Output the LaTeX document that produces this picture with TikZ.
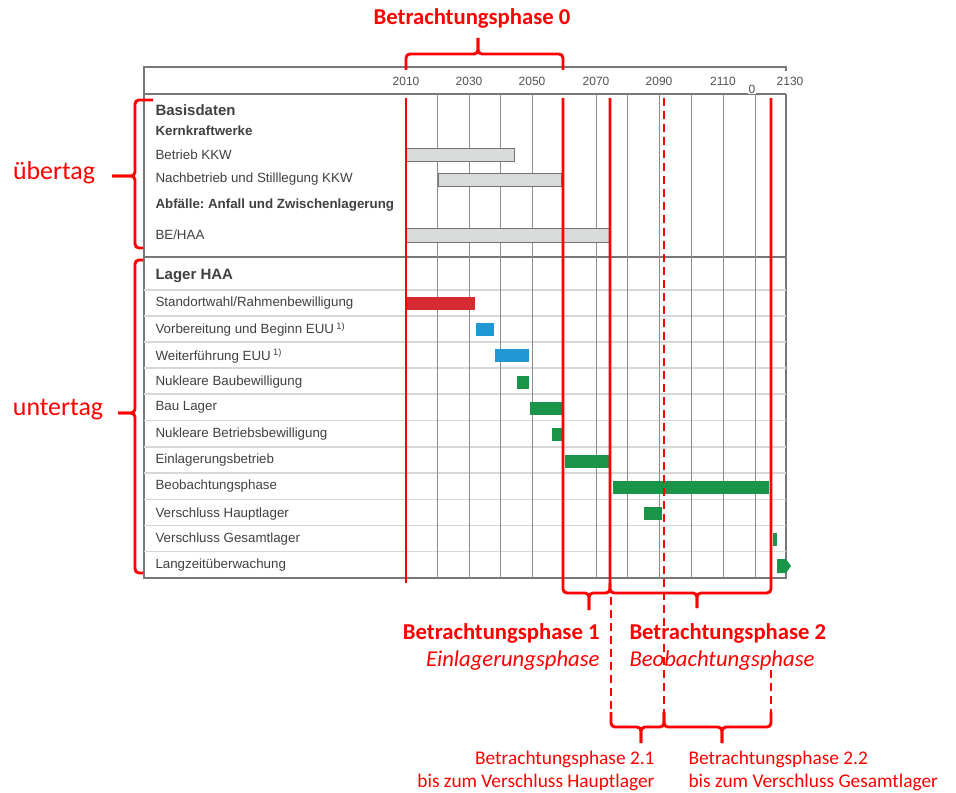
\documentclass[tikz,border=0pt]{standalone}
\usepackage{fontspec}
\setmainfont{Liberation Sans}
\newfontfamily\calibri{Carlito}
\frenchspacing

\tikzset{every picture/.style={line width=0.75pt}}
\tikzset{
  frameline/.style={draw={rgb, 255:red, 120; green, 120; blue, 120 }, line width=0.9pt},
  gridline/.style={draw={rgb, 255:red, 140; green, 140; blue, 140 }, line width=0.75pt},
  rowline/.style={draw={rgb, 255:red, 215; green, 215; blue, 215 }, line width=1.1pt},
  oldbar/.style={fill={rgb, 255:red, 217; green, 218; blue, 218 }, draw={rgb, 255:red, 115; green, 115; blue, 115 }, line width=0.75pt},
  redbar/.style={fill={rgb, 255:red, 213; green, 43; blue, 48 }},
  bluebar/.style={fill={rgb, 255:red, 33; green, 150; blue, 211 }},
  greenbar/.style={fill={rgb, 255:red, 26; green, 148; blue, 72 }},
  redline/.style={draw={rgb, 255:red, 255; green, 0; blue, 0 }, line width=2.2pt, rounded corners=3pt},
  reddash/.style={redline, dash pattern=on 6pt off 3.75pt},
  rowtext/.style={anchor=west, inner sep=0pt, text={rgb, 255:red, 64; green, 64; blue, 64 }, font=\fontsize{10}{12}\selectfont},
  headtext/.style={rowtext, font=\fontsize{10}{12}\selectfont\bfseries},
  bigheadtext/.style={rowtext, font=\fontsize{11.25}{13}\selectfont\bfseries},
  yeartext/.style={inner sep=0pt, text={rgb, 255:red, 80; green, 80; blue, 80 }, font=\fontsize{9}{11}\selectfont},
  phasetext/.style={inner sep=0pt, text={rgb, 255:red, 255; green, 0; blue, 0 }, font=\calibri\fontsize{17}{20}\selectfont\bfseries},
  phasesub/.style={inner sep=0pt, text={rgb, 255:red, 255; green, 0; blue, 0 }, font=\calibri\fontsize{17}{20}\selectfont\itshape},
  phasesmall/.style={inner sep=0pt, text={rgb, 255:red, 255; green, 0; blue, 0 }, font=\calibri\fontsize{14.5}{17}\selectfont},
  sidetext/.style={inner sep=0pt, text={rgb, 255:red, 255; green, 0; blue, 0 }, font=\calibri\fontsize{19.4}{22}\selectfont}
}

\begin{document}
\begin{tikzpicture}[x=0.75pt,y=0.75pt,yscale=-1,xscale=1]
\useasboundingbox (0,0) rectangle (956,792);

%Shape: Frame
\draw [frameline] (786,94) -- (786,578) -- (144,578) -- (144,67) -- (786,67) -- (786,71) ;
%Straight Lines
\draw [frameline] (144,94) -- (786,94) ;
\draw [frameline] (144,257) -- (786,257) ;

%Straight Lines: row lines
\draw [rowline] (144,290) -- (786,290) ;
\draw [rowline] (144,316) -- (786,316) ;
\draw [rowline] (144,342) -- (786,342) ;
\draw [rowline] (144,368) -- (786,368) ;
\draw [rowline] (144,394) -- (786,394) ;
\draw [rowline] (144,420.5) -- (786,420.5) ;
\draw [rowline] (144,447) -- (786,447) ;
\draw [rowline] (144,473) -- (786,473) ;
\draw [rowline] (144,499.5) -- (786,499.5) ;
\draw [rowline] (144,525.5) -- (786,525.5) ;
\draw [rowline] (144,551.5) -- (786,551.5) ;

%Straight Lines: year lines
\draw [gridline] (437.7,94) -- (437.7,578) ;
\draw [gridline] (469,94) -- (469,578) ;
\draw [gridline] (500.7,94) -- (500.7,578) ;
\draw [gridline] (532.3,94) -- (532.3,578) ;
\draw [gridline] (596,94) -- (596,578) ;
\draw [gridline] (627.7,94) -- (627.7,578) ;
\draw [gridline] (659.3,94) -- (659.3,578) ;
\draw [gridline] (691.7,94) -- (691.7,578) ;
\draw [gridline] (723.3,94) -- (723.3,578) ;
\draw [gridline] (755,94) -- (755,578) ;

% Text Node
\draw (406,81) node (y2010) [yeartext] {2010};
% Text Node
\draw (469,81) node (y2030) [yeartext] {2030};
% Text Node
\draw (532,81) node (y2050) [yeartext] {2050};
% Text Node
\draw (596,81) node (y2070) [yeartext] {2070};
% Text Node
\draw (659,81) node (y2090) [yeartext] {2090};
% Text Node
\draw (723,81) node (y2110) [yeartext] {2110};
% Text Node
\draw (790,81) node (y2130) [yeartext] {2130};
% Text Node
\draw (752,89) node (yzero) [yeartext, fill=white, inner sep=0.5pt] {0};

%Shape: Rectangle
\draw [oldbar] (406,148) rectangle (514,161) ;
\draw [oldbar] (438,173) rectangle (561,186) ;
\draw [oldbar] (406,228) rectangle (610,242) ;
%Shape: Rectangle
\fill [redbar] (406,297) rectangle (475,310) ;
\fill [bluebar] (476,323) rectangle (494,336) ;
\fill [bluebar] (495,349) rectangle (529,362) ;
\fill [greenbar] (517,376) rectangle (529,389) ;
\fill [greenbar] (530,402) rectangle (563,415) ;
\fill [greenbar] (552,428) rectangle (563,441) ;
\fill [greenbar] (565,455) rectangle (610,468) ;
\fill [greenbar] (613,481) rectangle (769,494) ;
\fill [greenbar] (644,507) rectangle (662,520) ;
\fill [greenbar] (773,533) rectangle (777,546) ;
%Shape: Pentagon
\fill [greenbar] (777,559) -- (786,559) -- (791,566) -- (786,573) -- (777,573) -- cycle ;

% Text Node
\draw (155,110) node (basis) [bigheadtext] {Basisdaten};
% Text Node
\draw (155,131) node (kkw) [headtext] {Kernkraftwerke};
% Text Node
\draw (155,154.5) node (betrieb) [rowtext] {Betrieb KKW};
% Text Node
\draw (155,179) node (nachbetrieb) [rowtext] {Nachbetrieb und Stilllegung KKW};
% Text Node
\draw (155,205.5) node (abfall) [headtext] {Abfälle: Anfall und Zwischenlagerung};
% Text Node
\draw (155,235) node (beh) [rowtext] {BE/HAA};
% Text Node
\draw (155,275.5) node (lager) [bigheadtext] {Lager HAA};
% Text Node
\draw (155,303) node (standort) [rowtext] {Standortwahl/Rahmenbewilligung};
% Text Node
\draw (155,329.5) node (vorber) [rowtext] {Vorbereitung und Beginn EUU\,\textsuperscript{1)}};
% Text Node
\draw (155,356) node (weiter) [rowtext] {Weiterführung EUU\,\textsuperscript{1)}};
% Text Node
\draw (155,382.5) node (baubew) [rowtext] {Nukleare Baubewilligung};
% Text Node
\draw (155,407.5) node (bau) [rowtext] {Bau Lager};
% Text Node
\draw (155,434) node (betrbew) [rowtext] {Nukleare Betriebsbewilligung};
% Text Node
\draw (155,460) node (einlag) [rowtext] {Einlagerungsbetrieb};
% Text Node
\draw (155,486.5) node (beob) [rowtext] {Beobachtungsphase};
% Text Node
\draw (155,514.5) node (haupt) [rowtext] {Verschluss Hauptlager};
% Text Node
\draw (155,539) node (gesamt) [rowtext] {Verschluss Gesamtlager};
% Text Node
\draw (155,565) node (langzeit) [rowtext] {Langzeitüberwachung};

%Straight Lines: phase borders
\draw [redline] (406,98) -- (406,583) ;
\draw [redline] (406,70) |- (478,54) -- (478,38) ;
\draw [redline] (478,38) -- (478,54) -| (563,70) ;
\draw [redline] (563,98) |- (589,593) -- (589,610) ;
\draw [redline] (589,610) -- (589,593) -| (610,98) ;
\draw [redline] (610,583) |- (697,593) -- (697,608) ;
\draw [redline] (697,608) -- (697,593) -| (771,98) ;
%Straight Lines: dashed
\draw [reddash] (664,98) -- (664,714) ;
\draw [reddash] (611,597) -- (611,714) ;
\draw [reddash] (771,670) -- (771,714) ;
\draw [redline] (611,712) |- (641,727) -- (641,743) ;
\draw [redline] (641,743) -- (641,727) -| (664,712) ;
\draw [redline] (664,712) |- (722,727) -- (722,743) ;
\draw [redline] (722,743) -- (722,727) -| (771,712) ;
%Straight Lines: side braces
\draw [redline] (153,100) -| (135,176) -- (112,176) ;
\draw [redline] (112,176) -- (135,176) |- (143,248) ;
\draw [redline] (143,260) -| (135,413) -- (118,413) ;
\draw [redline] (118,413) -- (135,413) |- (143,573) ;

% Text Node
\draw (472,18) node (phase0) [phasetext] {Betrachtungsphase 0};
% Text Node
\draw (600,633) node (phase1) [phasetext, anchor=east] {Betrachtungsphase 1};
% Text Node
\draw (600,661) node (phase1sub) [phasesub, anchor=east] {Einlagerungsphase};
% Text Node
\draw (629,633) node (phase2) [phasetext, anchor=west] {Betrachtungsphase 2};
% Text Node
\draw (629,661) node (phase2sub) [phasesub, anchor=west] {Beobachtungsphase};
% Text Node
\draw (655,759) node (phase21) [phasesmall, anchor=east] {Betrachtungsphase 2.1};
% Text Node
\draw (655,782) node (phase21sub) [phasesmall, anchor=east] {bis zum Verschluss Hauptlager};
% Text Node
\draw (688,759) node (phase22) [phasesmall, anchor=west] {Betrachtungsphase 2.2};
% Text Node
\draw (688,782) node (phase22sub) [phasesmall, anchor=west] {bis zum Verschluss Gesamtlager};
% Text Node
\draw (54,173) node (ueber) [sidetext] {übertag};
% Text Node
\draw (58,410) node (unter) [sidetext] {untertag};

\end{tikzpicture}
\end{document}
